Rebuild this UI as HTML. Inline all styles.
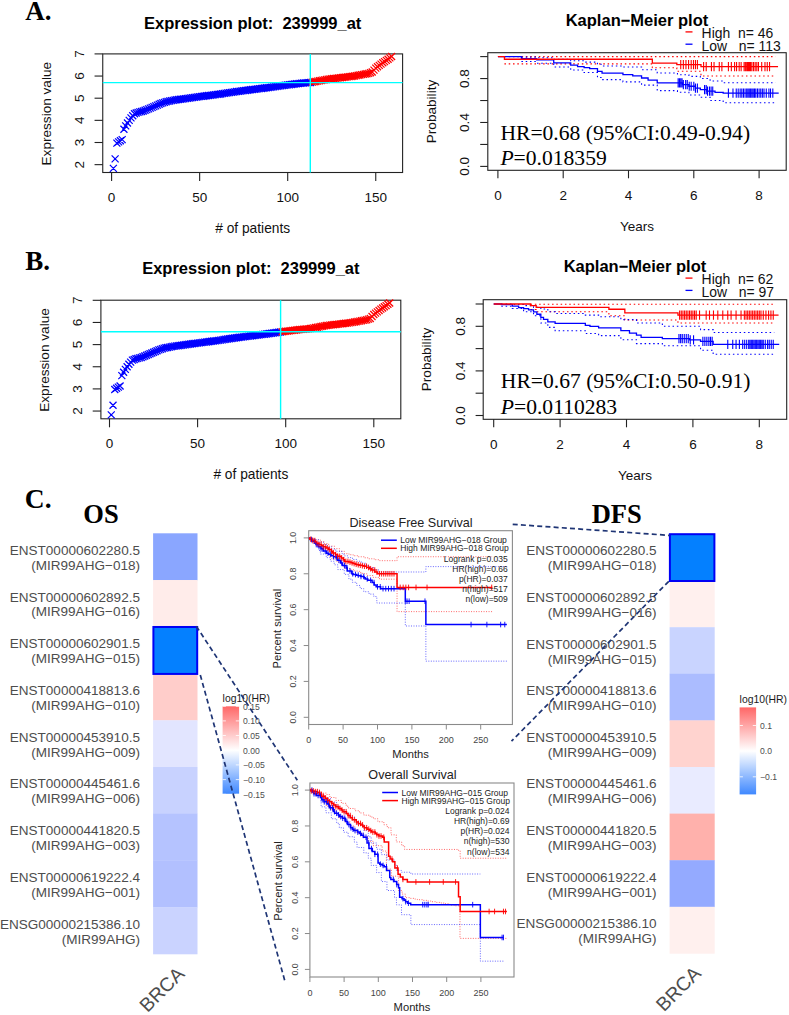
<!DOCTYPE html>
<html><head><meta charset="utf-8"><title>Figure</title>
<style>
html,body{margin:0;padding:0;background:#fff;}
body{width:789px;height:1015px;overflow:hidden;font-family:"Liberation Sans",sans-serif;}
svg{display:block;}
</style></head>
<body>
<svg width="789" height="1015" viewBox="0 0 789 1015">
<rect x="0" y="0" width="789" height="1015" fill="#ffffff"/>
<text x="25.2" y="20.2" font-family="Liberation Serif, serif" font-size="27" text-anchor="start" font-weight="bold" fill="#000">A.</text>
<rect x="102.75" y="53.9" width="299.85" height="118.6" fill="none" stroke="#222" stroke-width="1.1"/>
<path d="M109.86 164.92L116.86 171.92M109.86 171.92L116.86 164.92M111.62 155.39L118.62 162.39M111.62 162.39L118.62 155.39M113.38 139.66L120.38 146.66M113.38 146.66L120.38 139.66M115.14 138.34L122.14 145.34M115.14 145.34L122.14 138.34M116.91 137.23L123.91 144.23M116.91 144.23L123.91 137.23M118.67 136.12L125.67 143.12M118.67 143.12L125.67 136.12M120.43 125.71L127.43 132.71M120.43 132.71L127.43 125.71M122.19 122.39L129.19 129.39M122.19 129.39L129.19 122.39M123.95 119.51L130.95 126.51M123.95 126.51L130.95 119.51M125.71 116.85L132.71 123.85M125.71 123.85L132.71 116.85M127.47 114.41L134.47 121.41M127.47 121.41L134.47 114.41M129.23 112.2L136.23 119.2M129.23 119.2L136.23 112.2M130.99 110.2L137.99 117.2M130.99 117.2L137.99 110.2M132.75 109.54L139.75 116.54M132.75 116.54L139.75 109.54M134.51 108.88L141.51 115.88M134.51 115.88L141.51 108.88M136.28 108.43L143.28 115.43M136.28 115.43L143.28 108.43M138.04 107.99L145.04 114.99M138.04 114.99L145.04 107.99M139.8 107.55L146.8 114.55M139.8 114.55L146.8 107.55M141.56 106.81L148.56 113.81M141.56 113.81L148.56 106.81M143.32 106.07L150.32 113.07M143.32 113.07L150.32 106.07M145.08 105.33L152.08 112.33M145.08 112.33L152.08 105.33M146.84 104.59L153.84 111.59M146.84 111.59L153.84 104.59M148.6 103.86L155.6 110.86M148.6 110.86L155.6 103.86M150.36 103.12L157.36 110.12M150.36 110.12L157.36 103.12M152.12 102.34L159.12 109.34M152.12 109.34L159.12 102.34M153.89 101.57L160.89 108.57M153.89 108.57L160.89 101.57M155.65 100.79L162.65 107.79M155.65 107.79L162.65 100.79M157.41 100.02L164.41 107.02M157.41 107.02L164.41 100.02M159.17 99.43L166.17 106.43M159.17 106.43L166.17 99.43M160.93 98.83L167.93 105.83M160.93 105.83L167.93 98.83M162.69 98.24L169.69 105.24M162.69 105.24L169.69 98.24M164.45 97.89L171.45 104.89M164.45 104.89L171.45 97.89M166.21 97.54L173.21 104.54M166.21 104.54L173.21 97.54M167.97 97.18L174.97 104.18M167.97 104.18L174.97 97.18M169.73 96.83L176.73 103.83M169.73 103.83L176.73 96.83M171.5 96.47L178.5 103.47M171.5 103.47L178.5 96.47M173.26 96.25L180.26 103.25M173.26 103.25L180.26 96.25M175.02 96.03L182.02 103.03M175.02 103.03L182.02 96.03M176.78 95.81L183.78 102.81M176.78 102.81L183.78 95.81M178.54 95.59L185.54 102.59M178.54 102.59L185.54 95.59M180.3 95.36L187.3 102.36M180.3 102.36L187.3 95.36M182.06 95.12L189.06 102.12M182.06 102.12L189.06 95.12M183.82 94.88L190.82 101.88M183.82 101.88L190.82 94.88M185.58 94.63L192.58 101.63M185.58 101.63L192.58 94.63M187.34 94.39L194.34 101.39M187.34 101.39L194.34 94.39M189.11 94.15L196.11 101.15M189.11 101.15L196.11 94.15M190.87 93.9L197.87 100.9M190.87 100.9L197.87 93.9M192.63 93.66L199.63 100.66M192.63 100.66L199.63 93.66M194.39 93.42L201.39 100.42M194.39 100.42L201.39 93.42M196.15 93.17L203.15 100.17M196.15 100.17L203.15 93.17M197.91 92.93L204.91 99.93M197.91 99.93L204.91 92.93M199.67 92.71L206.67 99.71M199.67 99.71L206.67 92.71M201.43 92.49L208.43 99.49M201.43 99.49L208.43 92.49M203.19 92.26L210.19 99.26M203.19 99.26L210.19 92.26M204.95 92.04L211.95 99.04M204.95 99.04L211.95 92.04M206.72 91.82L213.72 98.82M206.72 98.82L213.72 91.82M208.48 91.6L215.48 98.6M208.48 98.6L215.48 91.6M210.24 91.38L217.24 98.38M210.24 98.38L217.24 91.38M212 91.16L219 98.16M212 98.16L219 91.16M213.76 90.93L220.76 97.93M213.76 97.93L220.76 90.93M215.52 90.71L222.52 97.71M215.52 97.71L222.52 90.71M217.28 90.45L224.28 97.45M217.28 97.45L224.28 90.45M219.04 90.18L226.04 97.18M219.04 97.18L226.04 90.18M220.8 89.92L227.8 96.92M220.8 96.92L227.8 89.92M222.56 89.65L229.56 96.65M222.56 96.65L229.56 89.65M224.33 89.38L231.33 96.38M224.33 96.38L231.33 89.38M226.09 89.12L233.09 96.12M226.09 96.12L233.09 89.12M227.85 88.85L234.85 95.85M227.85 95.85L234.85 88.85M229.61 88.59L236.61 95.59M229.61 95.59L236.61 88.59M231.37 88.32L238.37 95.32M231.37 95.32L238.37 88.32M233.13 88.06L240.13 95.06M233.13 95.06L240.13 88.06M234.89 87.83L241.89 94.83M234.89 94.83L241.89 87.83M236.65 87.61L243.65 94.61M236.65 94.61L243.65 87.61M238.41 87.39L245.41 94.39M238.41 94.39L245.41 87.39M240.17 87.17L247.17 94.17M240.17 94.17L247.17 87.17M241.94 86.95L248.94 93.95M241.94 93.95L248.94 86.95M243.7 86.73L250.7 93.73M243.7 93.73L250.7 86.73M245.46 86.5L252.46 93.5M245.46 93.5L252.46 86.5M247.22 86.28L254.22 93.28M247.22 93.28L254.22 86.28M248.98 86.06L255.98 93.06M248.98 93.06L255.98 86.06M250.74 85.84L257.74 92.84M250.74 92.84L257.74 85.84M252.5 85.62L259.5 92.62M252.5 92.62L259.5 85.62M254.26 85.4L261.26 92.4M254.26 92.4L261.26 85.4M256.02 85.18L263.02 92.18M256.02 92.18L263.02 85.18M257.78 84.95L264.78 91.95M257.78 91.95L264.78 84.95M259.55 84.73L266.55 91.73M259.55 91.73L266.55 84.73M261.31 84.51L268.31 91.51M261.31 91.51L268.31 84.51M263.07 84.29L270.07 91.29M263.07 91.29L270.07 84.29M264.83 84.07L271.83 91.07M264.83 91.07L271.83 84.07M266.59 83.85L273.59 90.85M266.59 90.85L273.59 83.85M268.35 83.62L275.35 90.62M268.35 90.62L275.35 83.62M270.11 83.37L277.11 90.37M270.11 90.37L277.11 83.37M271.87 83.11L278.87 90.11M271.87 90.11L278.87 83.11M273.63 82.85L280.63 89.85M273.63 89.85L280.63 82.85M275.39 82.59L282.39 89.59M275.39 89.59L282.39 82.59M277.16 82.33L284.16 89.33M277.16 89.33L284.16 82.33M278.92 82.07L285.92 89.07M278.92 89.07L285.92 82.07M280.68 81.85L287.68 88.85M280.68 88.85L287.68 81.85M282.44 81.63L289.44 88.63M282.44 88.63L289.44 81.63M284.2 81.41L291.2 88.41M284.2 88.41L291.2 81.41M285.96 81.19L292.96 88.19M285.96 88.19L292.96 81.19M287.72 80.97L294.72 87.97M287.72 87.97L294.72 80.97M289.48 80.75L296.48 87.75M289.48 87.75L296.48 80.75M291.24 80.52L298.24 87.52M291.24 87.52L298.24 80.52M293 80.3L300 87.3M293 87.3L300 80.3M294.77 80.08L301.77 87.08M294.77 87.08L301.77 80.08M296.53 79.86L303.53 86.86M296.53 86.86L303.53 79.86M298.29 79.64L305.29 86.64M298.29 86.64L305.29 79.64M300.05 79.51L307.05 86.51M300.05 86.51L307.05 79.51M301.81 79.37L308.81 86.37M301.81 86.37L308.81 79.37M303.57 79.24L310.57 86.24M303.57 86.24L310.57 79.24M305.33 79.11L312.33 86.11M305.33 86.11L312.33 79.11M307.09 78.97L314.09 85.97M307.09 85.97L314.09 78.97" stroke="#0000ff" stroke-width="1.25" fill="none"/>
<path d="M308.85 78.64L315.85 85.64M308.85 85.64L315.85 78.64M310.62 78.31L317.62 85.31M310.62 85.31L317.62 78.31M312.38 77.98L319.38 84.98M312.38 84.98L319.38 77.98M314.14 77.64L321.14 84.64M314.14 84.64L321.14 77.64M315.9 77.31L322.9 84.31M315.9 84.31L322.9 77.31M317.66 76.98L324.66 83.98M317.66 83.98L324.66 76.98M319.42 76.65L326.42 83.65M319.42 83.65L326.42 76.65M321.18 76.32L328.18 83.32M321.18 83.32L328.18 76.32M322.94 75.98L329.94 82.98M322.94 82.98L329.94 75.98M324.7 75.65L331.7 82.65M324.7 82.65L331.7 75.65M326.46 75.45L333.46 82.45M326.46 82.45L333.46 75.45M328.23 75.24L335.23 82.24M328.23 82.24L335.23 75.24M329.99 75.03L336.99 82.03M329.99 82.03L336.99 75.03M331.75 74.83L338.75 81.83M331.75 81.83L338.75 74.83M333.51 74.62L340.51 81.62M333.51 81.62L340.51 74.62M335.27 74.42L342.27 81.42M335.27 81.42L342.27 74.42M337.03 74.21L344.03 81.21M337.03 81.21L344.03 74.21M338.79 74.01L345.79 81.01M338.79 81.01L345.79 74.01M340.55 73.8L347.55 80.8M340.55 80.8L347.55 73.8M342.31 73.59L349.31 80.59M342.31 80.59L349.31 73.59M344.07 73.39L351.07 80.39M344.07 80.39L351.07 73.39M345.83 73.18L352.83 80.18M345.83 80.18L352.83 73.18M347.6 72.98L354.6 79.98M347.6 79.98L354.6 72.98M349.36 72.77L356.36 79.77M349.36 79.77L356.36 72.77M351.12 72.45L358.12 79.45M351.12 79.45L358.12 72.45M352.88 72.13L359.88 79.13M352.88 79.13L359.88 72.13M354.64 71.81L361.64 78.81M354.64 78.81L361.64 71.81M356.4 71.49L363.4 78.49M356.4 78.49L363.4 71.49M358.16 71.17L365.16 78.17M358.16 78.17L365.16 71.17M359.92 70.85L366.92 77.85M359.92 77.85L366.92 70.85M361.68 70.53L368.68 77.53M361.68 77.53L368.68 70.53M363.44 70.21L370.44 77.21M363.44 77.21L370.44 70.21M365.21 69.89L372.21 76.89M365.21 76.89L372.21 69.89M366.97 69.23L373.97 76.23M366.97 76.23L373.97 69.23M368.73 68.56L375.73 75.56M368.73 75.56L375.73 68.56M370.49 66.57L377.49 73.57M370.49 73.57L377.49 66.57M372.25 64.58L379.25 71.58M372.25 71.58L379.25 64.58M374.01 63.25L381.01 70.25M374.01 70.25L381.01 63.25M375.77 61.92L382.77 68.92M375.77 68.92L382.77 61.92M377.53 60.59L384.53 67.59M377.53 67.59L384.53 60.59M379.29 59.26L386.29 66.26M379.29 66.26L386.29 59.26M381.05 58.08L388.05 65.08M381.05 65.08L388.05 58.08M382.82 56.9L389.82 63.9M382.82 63.9L389.82 56.9M384.58 55.72L391.58 62.72M384.58 62.72L391.58 55.72M386.34 54.39L393.34 61.39M386.34 61.39L393.34 54.39M388.1 53.06L395.1 60.06M388.1 60.06L395.1 53.06" stroke="#ff0000" stroke-width="1.25" fill="none"/>
<line x1="102.75" y1="82.6" x2="402.6" y2="82.6" stroke="#00ffff" stroke-width="1.4"/>
<line x1="310.3" y1="53.9" x2="310.3" y2="172.5" stroke="#00ffff" stroke-width="1.4"/>
<line x1="94.55" y1="164.65" x2="102.75" y2="164.65" stroke="#222" stroke-width="1.1"/>
<text x="84.4" y="164.65" font-family="Liberation Sans, sans-serif" font-size="13.5" text-anchor="middle" fill="#111" transform="rotate(-90 84.4 164.65)">2</text>
<line x1="94.55" y1="142.5" x2="102.75" y2="142.5" stroke="#222" stroke-width="1.1"/>
<text x="84.4" y="142.5" font-family="Liberation Sans, sans-serif" font-size="13.5" text-anchor="middle" fill="#111" transform="rotate(-90 84.4 142.5)">3</text>
<line x1="94.55" y1="120.35" x2="102.75" y2="120.35" stroke="#222" stroke-width="1.1"/>
<text x="84.4" y="120.35" font-family="Liberation Sans, sans-serif" font-size="13.5" text-anchor="middle" fill="#111" transform="rotate(-90 84.4 120.35)">4</text>
<line x1="94.55" y1="98.2" x2="102.75" y2="98.2" stroke="#222" stroke-width="1.1"/>
<text x="84.4" y="98.2" font-family="Liberation Sans, sans-serif" font-size="13.5" text-anchor="middle" fill="#111" transform="rotate(-90 84.4 98.2)">5</text>
<line x1="94.55" y1="76.05" x2="102.75" y2="76.05" stroke="#222" stroke-width="1.1"/>
<text x="84.4" y="76.05" font-family="Liberation Sans, sans-serif" font-size="13.5" text-anchor="middle" fill="#111" transform="rotate(-90 84.4 76.05)">6</text>
<line x1="94.55" y1="53.9" x2="102.75" y2="53.9" stroke="#222" stroke-width="1.1"/>
<text x="84.4" y="53.9" font-family="Liberation Sans, sans-serif" font-size="13.5" text-anchor="middle" fill="#111" transform="rotate(-90 84.4 53.9)">7</text>
<line x1="111.6" y1="172.5" x2="111.6" y2="181" stroke="#222" stroke-width="1.1"/>
<text x="111.6" y="201.7" font-family="Liberation Sans, sans-serif" font-size="13.5" text-anchor="middle" fill="#111">0</text>
<line x1="199.65" y1="172.5" x2="199.65" y2="181" stroke="#222" stroke-width="1.1"/>
<text x="199.65" y="201.7" font-family="Liberation Sans, sans-serif" font-size="13.5" text-anchor="middle" fill="#111">50</text>
<line x1="287.7" y1="172.5" x2="287.7" y2="181" stroke="#222" stroke-width="1.1"/>
<text x="287.7" y="201.7" font-family="Liberation Sans, sans-serif" font-size="13.5" text-anchor="middle" fill="#111">100</text>
<line x1="375.75" y1="172.5" x2="375.75" y2="181" stroke="#222" stroke-width="1.1"/>
<text x="375.75" y="201.7" font-family="Liberation Sans, sans-serif" font-size="13.5" text-anchor="middle" fill="#111">150</text>
<text x="252.68" y="28.7" font-family="Liberation Sans, sans-serif" font-size="16.5" text-anchor="middle" font-weight="bold" fill="#000">Expression plot:&#160; 239999_at</text>
<text x="252.68" y="232.9" font-family="Liberation Sans, sans-serif" font-size="13.75" text-anchor="middle" fill="#111"># of patients</text>
<text x="51.4" y="113.7" font-family="Liberation Sans, sans-serif" font-size="13.6" text-anchor="middle" fill="#111" transform="rotate(-90 51.4 113.7)">Expression value</text>
<rect x="487.8" y="52.7" width="298.4" height="117.6" fill="none" stroke="#222" stroke-width="1.1"/>
<path d="M504.43 56.6H775.42" stroke="#ff0000" stroke-width="1.1" fill="none" stroke-dasharray="1.5 2.8"/>
<path d="M504.43 63.85H652.33V67.8H676.82V71.31H700.98V76.03H773.79" stroke="#ff0000" stroke-width="1.1" fill="none" stroke-dasharray="1.5 2.8"/>
<path d="M521.41 57.15H536.75V57.7H553.73V59.35H570.71V60.77H584.1V62.09H597.48V64.29H602.05V65.93H622.95V67.03H641.56V69.78H657.23V73.07H677.47V74.72H688.9V76.36H700.33V78.56H710.12V80.98H723.18V82.73H775.42" stroke="#0000ff" stroke-width="1.1" fill="none" stroke-dasharray="1.5 2.8"/>
<path d="M521.41 61.54H536.75V63.19H553.73V67.03H570.71V70H584.1V72.52H597.48V77.46H602.05V79.66H622.95V81.85H641.56V85.15H657.23V90.64H677.47V92.28H688.9V95.03H700.33V97.23H710.12V100.52H723.18V102.72H776.08" stroke="#0000ff" stroke-width="1.1" fill="none" stroke-dasharray="1.5 2.8"/>
<path d="M497.9 56.6H521.41V58.58H536.75V59.89H553.73V62.86H570.71V65.16H577.57V66.7H584.1V67.58H589.65V68.68H597.48V71.31H602.05V73.18H622.95V74.72H632.74V75.92H641.56V78.01H648.09V80.21H657.23V82.84H682.37V84.6H688.9V86.25H695.43V88.22H700.33V89.54H706.86V91.19H715.02V92.28H723.18V93.16H778.69" stroke="#0000ff" stroke-width="1.3" fill="none"/>
<path d="M497.9 56.6H504.43V59.24H652.33V63.19H676.82V64.62H700.98V66.59H778.04" stroke="#ff0000" stroke-width="1.3" fill="none"/>
<path d="M680.74 60.02V69.22M683.35 60.02V69.22M685.96 60.02V69.22M688.58 60.02V69.22M691.19 60.02V69.22M693.47 60.02V69.22M695.43 60.02V69.22M697.39 60.02V69.22M703.6 61.99V71.19M706.21 61.99V71.19M711.43 61.99V71.19M714.04 61.99V71.19M719.27 61.99V71.19M721.88 61.99V71.19M728.41 61.99V71.19M731.35 61.99V71.19M734.61 61.99V71.19M736.57 61.99V71.19M739.18 61.99V71.19M741.14 61.99V71.19M744.08 61.99V71.19M745.39 61.99V71.19M746.69 61.99V71.19M747.67 61.99V71.19M748.65 61.99V71.19M749.63 61.99V71.19M750.61 61.99V71.19M751.92 61.99V71.19M753.55 61.99V71.19M755.18 61.99V71.19M756.81 61.99V71.19M758.45 61.99V71.19M761.71 61.99V71.19M764.98 61.99V71.19M767.26 61.99V71.19M769.55 61.99V71.19" stroke="#ff0000" stroke-width="1.1" fill="none"/>
<path d="M678.13 78.24V87.44M679.43 78.24V87.44M680.74 78.24V87.44M682.05 78.24V87.44M683.35 80V89.2M685.64 80V89.2M687.27 80V89.2M689.23 81.65V90.85M691.19 81.65V90.85M693.8 81.65V90.85M695.43 83.62V92.82M697.39 83.62V92.82M704.57 84.94V94.14M706.21 84.94V94.14M707.51 86.59V95.79M709.47 86.59V95.79M711.1 86.59V95.79M712.74 86.59V95.79M728.41 88.56V97.76M732.98 88.56V97.76M736.24 88.56V97.76M738.2 88.56V97.76M740.16 88.56V97.76M741.8 88.56V97.76M743.43 88.56V97.76M745.06 88.56V97.76M746.69 88.56V97.76M748 88.56V97.76M749.3 88.56V97.76M750.61 88.56V97.76M751.92 88.56V97.76M753.22 88.56V97.76M754.53 88.56V97.76M755.84 88.56V97.76M757.47 88.56V97.76M759.1 88.56V97.76M760.73 88.56V97.76M762.37 88.56V97.76M764 88.56V97.76M766.28 88.56V97.76M768.89 88.56V97.76M770.53 88.56V97.76M772.81 88.56V97.76" stroke="#0000ff" stroke-width="1.1" fill="none"/>
<line x1="480.2" y1="166.4" x2="487.8" y2="166.4" stroke="#222" stroke-width="1.1"/>
<line x1="480.2" y1="144.44" x2="487.8" y2="144.44" stroke="#222" stroke-width="1.1"/>
<line x1="480.2" y1="122.48" x2="487.8" y2="122.48" stroke="#222" stroke-width="1.1"/>
<line x1="480.2" y1="100.52" x2="487.8" y2="100.52" stroke="#222" stroke-width="1.1"/>
<line x1="480.2" y1="78.56" x2="487.8" y2="78.56" stroke="#222" stroke-width="1.1"/>
<line x1="480.2" y1="56.6" x2="487.8" y2="56.6" stroke="#222" stroke-width="1.1"/>
<text x="469.2" y="166.4" font-family="Liberation Sans, sans-serif" font-size="13.5" text-anchor="middle" fill="#111" transform="rotate(-90 469.2 166.4)">0.0</text>
<text x="469.2" y="122.48" font-family="Liberation Sans, sans-serif" font-size="13.5" text-anchor="middle" fill="#111" transform="rotate(-90 469.2 122.48)">0.4</text>
<text x="469.2" y="78.56" font-family="Liberation Sans, sans-serif" font-size="13.5" text-anchor="middle" fill="#111" transform="rotate(-90 469.2 78.56)">0.8</text>
<line x1="497.9" y1="170.3" x2="497.9" y2="178.3" stroke="#222" stroke-width="1.1"/>
<text x="497.9" y="200.1" font-family="Liberation Sans, sans-serif" font-size="13.5" text-anchor="middle" fill="#111">0</text>
<line x1="563.2" y1="170.3" x2="563.2" y2="178.3" stroke="#222" stroke-width="1.1"/>
<text x="563.2" y="200.1" font-family="Liberation Sans, sans-serif" font-size="13.5" text-anchor="middle" fill="#111">2</text>
<line x1="628.5" y1="170.3" x2="628.5" y2="178.3" stroke="#222" stroke-width="1.1"/>
<text x="628.5" y="200.1" font-family="Liberation Sans, sans-serif" font-size="13.5" text-anchor="middle" fill="#111">4</text>
<line x1="693.8" y1="170.3" x2="693.8" y2="178.3" stroke="#222" stroke-width="1.1"/>
<text x="693.8" y="200.1" font-family="Liberation Sans, sans-serif" font-size="13.5" text-anchor="middle" fill="#111">6</text>
<line x1="759.1" y1="170.3" x2="759.1" y2="178.3" stroke="#222" stroke-width="1.1"/>
<text x="759.1" y="200.1" font-family="Liberation Sans, sans-serif" font-size="13.5" text-anchor="middle" fill="#111">8</text>
<text x="637" y="25.6" font-family="Liberation Sans, sans-serif" font-size="16.5" text-anchor="middle" font-weight="bold" fill="#000">Kaplan&#8722;Meier plot</text>
<text x="637" y="231.3" font-family="Liberation Sans, sans-serif" font-size="13.5" text-anchor="middle" fill="#111">Years</text>
<text x="435.8" y="111.5" font-family="Liberation Sans, sans-serif" font-size="13.6" text-anchor="middle" fill="#111" transform="rotate(-90 435.8 111.5)">Probability</text>
<line x1="685.5" y1="31.9" x2="692.5" y2="31.9" stroke="#ff0000" stroke-width="1.3"/>
<line x1="685.5" y1="44.2" x2="692.5" y2="44.2" stroke="#0000ff" stroke-width="1.3"/>
<text x="701.6" y="38.2" font-family="Liberation Sans, sans-serif" font-size="13.95" text-anchor="start" fill="#111">High&#160; n= 46</text>
<text x="701.6" y="50.6" font-family="Liberation Sans, sans-serif" font-size="13.95" text-anchor="start" fill="#111">Low&#160;&#160; n= 113</text>
<text x="500.4" y="140" font-family="Liberation Serif, serif" font-size="21.6" text-anchor="start" fill="#000">HR=0.68 (95%CI:0.49-0.94)</text>
<text x="500.4" y="165.4" font-family="Liberation Serif, serif" font-size="21.6"><tspan font-style="italic">P</tspan>=0.018359</text>
<text x="25.2" y="270" font-family="Liberation Serif, serif" font-size="27" text-anchor="start" font-weight="bold" fill="#000">B.</text>
<rect x="100.9" y="300.2" width="299.9" height="118.6" fill="none" stroke="#222" stroke-width="1.1"/>
<path d="M107.76 411.32L114.76 418.32M107.76 418.32L114.76 411.32M109.52 401.79L116.52 408.79M109.52 408.79L116.52 401.79M111.29 386.06L118.29 393.06M111.29 393.06L118.29 386.06M113.05 384.74L120.05 391.74M113.05 391.74L120.05 384.74M114.81 383.63L121.81 390.63M114.81 390.63L121.81 383.63M116.57 382.52L123.57 389.52M116.57 389.52L123.57 382.52M118.33 372.11L125.33 379.11M118.33 379.11L125.33 372.11M120.1 368.79L127.1 375.79M120.1 375.79L127.1 368.79M121.86 365.91L128.86 372.91M121.86 372.91L128.86 365.91M123.62 363.25L130.62 370.25M123.62 370.25L130.62 363.25M125.38 360.81L132.38 367.81M125.38 367.81L132.38 360.81M127.14 358.6L134.14 365.6M127.14 365.6L134.14 358.6M128.91 356.61L135.91 363.61M128.91 363.61L135.91 356.61M130.67 355.94L137.67 362.94M130.67 362.94L137.67 355.94M132.43 355.28L139.43 362.28M132.43 362.28L139.43 355.28M134.19 354.83L141.19 361.83M134.19 361.83L141.19 354.83M135.95 354.39L142.95 361.39M135.95 361.39L142.95 354.39M137.72 353.95L144.72 360.95M137.72 360.95L144.72 353.95M139.48 353.21L146.48 360.21M139.48 360.21L146.48 353.21M141.24 352.47L148.24 359.47M141.24 359.47L148.24 352.47M143 351.73L150 358.73M143 358.73L150 351.73M144.76 350.99L151.76 357.99M144.76 357.99L151.76 350.99M146.53 350.26L153.53 357.26M146.53 357.26L153.53 350.26M148.29 349.52L155.29 356.52M148.29 356.52L155.29 349.52M150.05 348.74L157.05 355.74M150.05 355.74L157.05 348.74M151.81 347.97L158.81 354.97M151.81 354.97L158.81 347.97M153.57 347.19L160.57 354.19M153.57 354.19L160.57 347.19M155.34 346.42L162.34 353.42M155.34 353.42L162.34 346.42M157.1 345.83L164.1 352.83M157.1 352.83L164.1 345.83M158.86 345.23L165.86 352.23M158.86 352.23L165.86 345.23M160.62 344.64L167.62 351.64M160.62 351.64L167.62 344.64M162.38 344.29L169.38 351.29M162.38 351.29L169.38 344.29M164.15 343.94L171.15 350.94M164.15 350.94L171.15 343.94M165.91 343.58L172.91 350.58M165.91 350.58L172.91 343.58M167.67 343.23L174.67 350.23M167.67 350.23L174.67 343.23M169.43 342.87L176.43 349.87M169.43 349.87L176.43 342.87M171.19 342.65L178.19 349.65M171.19 349.65L178.19 342.65M172.96 342.43L179.96 349.43M172.96 349.43L179.96 342.43M174.72 342.21L181.72 349.21M174.72 349.21L181.72 342.21M176.48 341.99L183.48 348.99M176.48 348.99L183.48 341.99M178.24 341.76L185.24 348.76M178.24 348.76L185.24 341.76M180 341.52L187 348.52M180 348.52L187 341.52M181.77 341.28L188.77 348.28M181.77 348.28L188.77 341.28M183.53 341.03L190.53 348.03M183.53 348.03L190.53 341.03M185.29 340.79L192.29 347.79M185.29 347.79L192.29 340.79M187.05 340.55L194.05 347.55M187.05 347.55L194.05 340.55M188.81 340.3L195.81 347.3M188.81 347.3L195.81 340.3M190.58 340.06L197.58 347.06M190.58 347.06L197.58 340.06M192.34 339.82L199.34 346.82M192.34 346.82L199.34 339.82M194.1 339.57L201.1 346.57M194.1 346.57L201.1 339.57M195.86 339.33L202.86 346.33M195.86 346.33L202.86 339.33M197.62 339.11L204.62 346.11M197.62 346.11L204.62 339.11M199.39 338.88L206.39 345.88M199.39 345.88L206.39 338.88M201.15 338.66L208.15 345.66M201.15 345.66L208.15 338.66M202.91 338.44L209.91 345.44M202.91 345.44L209.91 338.44M204.67 338.22L211.67 345.22M204.67 345.22L211.67 338.22M206.43 338L213.43 345M206.43 345L213.43 338M208.2 337.78L215.2 344.78M208.2 344.78L215.2 337.78M209.96 337.56L216.96 344.56M209.96 344.56L216.96 337.56M211.72 337.33L218.72 344.33M211.72 344.33L218.72 337.33M213.48 337.11L220.48 344.11M213.48 344.11L220.48 337.11M215.24 336.85L222.24 343.85M215.24 343.85L222.24 336.85M217.01 336.58L224.01 343.58M217.01 343.58L224.01 336.58M218.77 336.32L225.77 343.32M218.77 343.32L225.77 336.32M220.53 336.05L227.53 343.05M220.53 343.05L227.53 336.05M222.29 335.78L229.29 342.78M222.29 342.78L229.29 335.78M224.05 335.52L231.05 342.52M224.05 342.52L231.05 335.52M225.82 335.25L232.82 342.25M225.82 342.25L232.82 335.25M227.58 334.99L234.58 341.99M227.58 341.99L234.58 334.99M229.34 334.72L236.34 341.72M229.34 341.72L236.34 334.72M231.1 334.46L238.1 341.46M231.1 341.46L238.1 334.46M232.86 334.23L239.86 341.23M232.86 341.23L239.86 334.23M234.63 334.01L241.63 341.01M234.63 341.01L241.63 334.01M236.39 333.79L243.39 340.79M236.39 340.79L243.39 333.79M238.15 333.57L245.15 340.57M238.15 340.57L245.15 333.57M239.91 333.35L246.91 340.35M239.91 340.35L246.91 333.35M241.67 333.13L248.67 340.13M241.67 340.13L248.67 333.13M243.44 332.9L250.44 339.9M243.44 339.9L250.44 332.9M245.2 332.68L252.2 339.68M245.2 339.68L252.2 332.68M246.96 332.46L253.96 339.46M246.96 339.46L253.96 332.46M248.72 332.24L255.72 339.24M248.72 339.24L255.72 332.24M250.48 332.02L257.48 339.02M250.48 339.02L257.48 332.02M252.25 331.8L259.25 338.8M252.25 338.8L259.25 331.8M254.01 331.58L261.01 338.58M254.01 338.58L261.01 331.58M255.77 331.35L262.77 338.35M255.77 338.35L262.77 331.35M257.53 331.13L264.53 338.13M257.53 338.13L264.53 331.13M259.29 330.91L266.29 337.91M259.29 337.91L266.29 330.91M261.06 330.69L268.06 337.69M261.06 337.69L268.06 330.69M262.82 330.47L269.82 337.47M262.82 337.47L269.82 330.47M264.58 330.25L271.58 337.25M264.58 337.25L271.58 330.25M266.34 330.02L273.34 337.02M266.34 337.02L273.34 330.02M268.1 329.77L275.1 336.77M268.1 336.77L275.1 329.77M269.87 329.51L276.87 336.51M269.87 336.51L276.87 329.51M271.63 329.25L278.63 336.25M271.63 336.25L278.63 329.25M273.39 328.99L280.39 335.99M273.39 335.99L280.39 328.99M275.15 328.73L282.15 335.73M275.15 335.73L282.15 328.73M276.91 328.47L283.91 335.47M276.91 335.47L283.91 328.47" stroke="#0000ff" stroke-width="1.25" fill="none"/>
<path d="M278.68 328.25L285.68 335.25M278.68 335.25L285.68 328.25M280.44 328.03L287.44 335.03M280.44 335.03L287.44 328.03M282.2 327.81L289.2 334.81M282.2 334.81L289.2 327.81M283.96 327.59L290.96 334.59M283.96 334.59L290.96 327.59M285.72 327.37L292.72 334.37M285.72 334.37L292.72 327.37M287.49 327.15L294.49 334.15M287.49 334.15L294.49 327.15M289.25 326.92L296.25 333.92M289.25 333.92L296.25 326.92M291.01 326.7L298.01 333.7M291.01 333.7L298.01 326.7M292.77 326.48L299.77 333.48M292.77 333.48L299.77 326.48M294.53 326.26L301.53 333.26M294.53 333.26L301.53 326.26M296.3 326.04L303.3 333.04M296.3 333.04L303.3 326.04M298.06 325.91L305.06 332.91M298.06 332.91L305.06 325.91M299.82 325.77L306.82 332.77M299.82 332.77L306.82 325.77M301.58 325.64L308.58 332.64M301.58 332.64L308.58 325.64M303.34 325.51L310.34 332.51M303.34 332.51L310.34 325.51M305.11 325.37L312.11 332.37M305.11 332.37L312.11 325.37M306.87 325.04L313.87 332.04M306.87 332.04L313.87 325.04M308.63 324.71L315.63 331.71M308.63 331.71L315.63 324.71M310.39 324.38L317.39 331.38M310.39 331.38L317.39 324.38M312.15 324.04L319.15 331.04M312.15 331.04L319.15 324.04M313.92 323.71L320.92 330.71M313.92 330.71L320.92 323.71M315.68 323.38L322.68 330.38M315.68 330.38L322.68 323.38M317.44 323.05L324.44 330.05M317.44 330.05L324.44 323.05M319.2 322.72L326.2 329.72M319.2 329.72L326.2 322.72M320.96 322.38L327.96 329.38M320.96 329.38L327.96 322.38M322.73 322.05L329.73 329.05M322.73 329.05L329.73 322.05M324.49 321.85L331.49 328.85M324.49 328.85L331.49 321.85M326.25 321.64L333.25 328.64M326.25 328.64L333.25 321.64M328.01 321.43L335.01 328.43M328.01 328.43L335.01 321.43M329.77 321.23L336.77 328.23M329.77 328.23L336.77 321.23M331.54 321.02L338.54 328.02M331.54 328.02L338.54 321.02M333.3 320.82L340.3 327.82M333.3 327.82L340.3 320.82M335.06 320.61L342.06 327.61M335.06 327.61L342.06 320.61M336.82 320.41L343.82 327.41M336.82 327.41L343.82 320.41M338.58 320.2L345.58 327.2M338.58 327.2L345.58 320.2M340.35 319.99L347.35 326.99M340.35 326.99L347.35 319.99M342.11 319.79L349.11 326.79M342.11 326.79L349.11 319.79M343.87 319.58L350.87 326.58M343.87 326.58L350.87 319.58M345.63 319.38L352.63 326.38M345.63 326.38L352.63 319.38M347.39 319.17L354.39 326.17M347.39 326.17L354.39 319.17M349.16 318.85L356.16 325.85M349.16 325.85L356.16 318.85M350.92 318.53L357.92 325.53M350.92 325.53L357.92 318.53M352.68 318.21L359.68 325.21M352.68 325.21L359.68 318.21M354.44 317.89L361.44 324.89M354.44 324.89L361.44 317.89M356.2 317.57L363.2 324.57M356.2 324.57L363.2 317.57M357.97 317.25L364.97 324.25M357.97 324.25L364.97 317.25M359.73 316.93L366.73 323.93M359.73 323.93L366.73 316.93M361.49 316.61L368.49 323.61M361.49 323.61L368.49 316.61M363.25 316.29L370.25 323.29M363.25 323.29L370.25 316.29M365.01 315.63L372.01 322.63M365.01 322.63L372.01 315.63M366.78 314.96L373.78 321.96M366.78 321.96L373.78 314.96M368.54 312.97L375.54 319.97M368.54 319.97L375.54 312.97M370.3 310.98L377.3 317.98M370.3 317.98L377.3 310.98M372.06 309.65L379.06 316.65M372.06 316.65L379.06 309.65M373.82 308.32L380.82 315.32M373.82 315.32L380.82 308.32M375.59 306.99L382.59 313.99M375.59 313.99L382.59 306.99M377.35 305.66L384.35 312.66M377.35 312.66L384.35 305.66M379.11 304.48L386.11 311.48M379.11 311.48L386.11 304.48M380.87 303.3L387.87 310.3M380.87 310.3L387.87 303.3M382.63 302.12L389.63 309.12M382.63 309.12L389.63 302.12M384.4 300.79L391.4 307.79M384.4 307.79L391.4 300.79M386.16 299.46L393.16 306.46M386.16 306.46L393.16 299.46" stroke="#ff0000" stroke-width="1.25" fill="none"/>
<line x1="100.9" y1="331.8" x2="400.8" y2="331.8" stroke="#00ffff" stroke-width="1.4"/>
<line x1="280.6" y1="300.2" x2="280.6" y2="418.8" stroke="#00ffff" stroke-width="1.4"/>
<line x1="92.7" y1="411.05" x2="100.9" y2="411.05" stroke="#222" stroke-width="1.1"/>
<text x="82.3" y="411.05" font-family="Liberation Sans, sans-serif" font-size="13.5" text-anchor="middle" fill="#111" transform="rotate(-90 82.3 411.05)">2</text>
<line x1="92.7" y1="388.9" x2="100.9" y2="388.9" stroke="#222" stroke-width="1.1"/>
<text x="82.3" y="388.9" font-family="Liberation Sans, sans-serif" font-size="13.5" text-anchor="middle" fill="#111" transform="rotate(-90 82.3 388.9)">3</text>
<line x1="92.7" y1="366.75" x2="100.9" y2="366.75" stroke="#222" stroke-width="1.1"/>
<text x="82.3" y="366.75" font-family="Liberation Sans, sans-serif" font-size="13.5" text-anchor="middle" fill="#111" transform="rotate(-90 82.3 366.75)">4</text>
<line x1="92.7" y1="344.6" x2="100.9" y2="344.6" stroke="#222" stroke-width="1.1"/>
<text x="82.3" y="344.6" font-family="Liberation Sans, sans-serif" font-size="13.5" text-anchor="middle" fill="#111" transform="rotate(-90 82.3 344.6)">5</text>
<line x1="92.7" y1="322.45" x2="100.9" y2="322.45" stroke="#222" stroke-width="1.1"/>
<text x="82.3" y="322.45" font-family="Liberation Sans, sans-serif" font-size="13.5" text-anchor="middle" fill="#111" transform="rotate(-90 82.3 322.45)">6</text>
<line x1="92.7" y1="300.3" x2="100.9" y2="300.3" stroke="#222" stroke-width="1.1"/>
<text x="82.3" y="300.3" font-family="Liberation Sans, sans-serif" font-size="13.5" text-anchor="middle" fill="#111" transform="rotate(-90 82.3 300.3)">7</text>
<line x1="109.5" y1="418.8" x2="109.5" y2="427.3" stroke="#222" stroke-width="1.1"/>
<text x="109.5" y="448" font-family="Liberation Sans, sans-serif" font-size="13.5" text-anchor="middle" fill="#111">0</text>
<line x1="197.6" y1="418.8" x2="197.6" y2="427.3" stroke="#222" stroke-width="1.1"/>
<text x="197.6" y="448" font-family="Liberation Sans, sans-serif" font-size="13.5" text-anchor="middle" fill="#111">50</text>
<line x1="285.7" y1="418.8" x2="285.7" y2="427.3" stroke="#222" stroke-width="1.1"/>
<text x="285.7" y="448" font-family="Liberation Sans, sans-serif" font-size="13.5" text-anchor="middle" fill="#111">100</text>
<line x1="373.8" y1="418.8" x2="373.8" y2="427.3" stroke="#222" stroke-width="1.1"/>
<text x="373.8" y="448" font-family="Liberation Sans, sans-serif" font-size="13.5" text-anchor="middle" fill="#111">150</text>
<text x="250.85" y="274.2" font-family="Liberation Sans, sans-serif" font-size="16.5" text-anchor="middle" font-weight="bold" fill="#000">Expression plot:&#160; 239999_at</text>
<text x="250.85" y="479.2" font-family="Liberation Sans, sans-serif" font-size="13.75" text-anchor="middle" fill="#111"># of patients</text>
<text x="49.3" y="360" font-family="Liberation Sans, sans-serif" font-size="13.6" text-anchor="middle" fill="#111" transform="rotate(-90 49.3 360)">Expression value</text>
<rect x="483.2" y="299.7" width="303.5" height="119.6" fill="none" stroke="#222" stroke-width="1.1"/>
<path d="M530.55 304.22H774.24" stroke="#ff0000" stroke-width="1.1" fill="none" stroke-dasharray="1.5 2.8"/>
<path d="M530.55 309.57H536.2V311.81H608.9V315.82H624.84V319.94H677.96V322.95H774.24" stroke="#ff0000" stroke-width="1.1" fill="none" stroke-dasharray="1.5 2.8"/>
<path d="M501.34 304H512.29V304.56H523.58V305.67H533.54V307.35H540.84V309.02H547.82V311.81H555.12V313.48H585.33V315.15H598.61V316.82H620.86V319.61H636.46V322.95H662.36V326.3H700.54V329.64H713.15V332.43H774.24" stroke="#0000ff" stroke-width="1.1" fill="none" stroke-dasharray="1.5 2.8"/>
<path d="M501.34 306.23H512.29V308.46H523.58V311.81H533.54V315.71H540.84V322.95H547.82V327.41H555.12V330.76H585.33V333.55H598.61V335.67H620.86V339.68H636.46V343.58H662.36V345.81H700.54V350.27H713.15V354.18H774.24" stroke="#0000ff" stroke-width="1.1" fill="none" stroke-dasharray="1.5 2.8"/>
<path d="M493.7 304H501.34V304.67H512.29V306.12H518.6V307.57H523.58V308.68H528.56V309.8H533.54V311.81H536.86V314.26H540.84V317.38H543.5V319.39H547.82V321.95H555.12V323.4H585.33V325.41H589.98V326.3H598.61V327.97H620.86V330.54H629.49V333.1H636.46V335.22H641.11V337.45H662.36V338.68H689.58V339.9H700.54V341.35H713.15V344.36H779.22" stroke="#0000ff" stroke-width="1.3" fill="none"/>
<path d="M493.7 304H530.55V305.67H536.2V307.46H608.9V309.24H624.84V312.92H677.96V315.15H778.56" stroke="#ff0000" stroke-width="1.3" fill="none"/>
<path d="M679.62 310.55V319.75M681.28 310.55V319.75M682.94 310.55V319.75M684.6 310.55V319.75M686.26 310.55V319.75M687.92 310.55V319.75M689.58 310.55V319.75M691.24 310.55V319.75M692.9 310.55V319.75M694.56 310.55V319.75M696.22 310.55V319.75M699.54 310.55V319.75M706.18 310.55V319.75M709.5 310.55V319.75M713.48 310.55V319.75M717.8 310.55V319.75M722.78 310.55V319.75M727.76 310.55V319.75M731.08 310.55V319.75M736.06 310.55V319.75M741.04 310.55V319.75M744.36 310.55V319.75M746.02 310.55V319.75M747.68 310.55V319.75M749.34 310.55V319.75M751 310.55V319.75M752.66 310.55V319.75M754.32 310.55V319.75M755.98 310.55V319.75M757.64 310.55V319.75M759.3 310.55V319.75M760.96 310.55V319.75M763.28 310.55V319.75M765.94 310.55V319.75M768.6 310.55V319.75M770.92 310.55V319.75M773.24 310.55V319.75" stroke="#ff0000" stroke-width="1.1" fill="none"/>
<path d="M678.96 334.08V343.28M680.62 334.08V343.28M682.28 334.08V343.28M684.27 334.08V343.28M686.26 334.08V343.28M688.25 334.08V343.28M690.24 335.3V344.5M693.56 335.3V344.5M702.86 336.75V345.95M704.85 336.75V345.95M706.84 336.75V345.95M708.84 336.75V345.95M710.5 336.75V345.95M712.16 336.75V345.95M727.76 339.76V348.96M732.74 339.76V348.96M736.06 339.76V348.96M739.38 339.76V348.96M742.7 339.76V348.96M744.69 339.76V348.96M746.68 339.76V348.96M748.68 339.76V348.96M750 339.76V348.96M751.33 339.76V348.96M752.66 339.76V348.96M753.99 339.76V348.96M755.32 339.76V348.96M756.64 339.76V348.96M757.97 339.76V348.96M759.3 339.76V348.96M760.63 339.76V348.96M761.96 339.76V348.96M763.28 339.76V348.96M765.28 339.76V348.96M767.6 339.76V348.96M769.26 339.76V348.96M771.25 339.76V348.96M773.24 339.76V348.96" stroke="#0000ff" stroke-width="1.1" fill="none"/>
<line x1="475.6" y1="415.5" x2="483.2" y2="415.5" stroke="#222" stroke-width="1.1"/>
<line x1="475.6" y1="393.2" x2="483.2" y2="393.2" stroke="#222" stroke-width="1.1"/>
<line x1="475.6" y1="370.9" x2="483.2" y2="370.9" stroke="#222" stroke-width="1.1"/>
<line x1="475.6" y1="348.6" x2="483.2" y2="348.6" stroke="#222" stroke-width="1.1"/>
<line x1="475.6" y1="326.3" x2="483.2" y2="326.3" stroke="#222" stroke-width="1.1"/>
<line x1="475.6" y1="304" x2="483.2" y2="304" stroke="#222" stroke-width="1.1"/>
<text x="464.6" y="415.5" font-family="Liberation Sans, sans-serif" font-size="13.5" text-anchor="middle" fill="#111" transform="rotate(-90 464.6 415.5)">0.0</text>
<text x="464.6" y="370.9" font-family="Liberation Sans, sans-serif" font-size="13.5" text-anchor="middle" fill="#111" transform="rotate(-90 464.6 370.9)">0.4</text>
<text x="464.6" y="326.3" font-family="Liberation Sans, sans-serif" font-size="13.5" text-anchor="middle" fill="#111" transform="rotate(-90 464.6 326.3)">0.8</text>
<line x1="493.7" y1="419.3" x2="493.7" y2="427.3" stroke="#222" stroke-width="1.1"/>
<text x="493.7" y="449.1" font-family="Liberation Sans, sans-serif" font-size="13.5" text-anchor="middle" fill="#111">0</text>
<line x1="560.1" y1="419.3" x2="560.1" y2="427.3" stroke="#222" stroke-width="1.1"/>
<text x="560.1" y="449.1" font-family="Liberation Sans, sans-serif" font-size="13.5" text-anchor="middle" fill="#111">2</text>
<line x1="626.5" y1="419.3" x2="626.5" y2="427.3" stroke="#222" stroke-width="1.1"/>
<text x="626.5" y="449.1" font-family="Liberation Sans, sans-serif" font-size="13.5" text-anchor="middle" fill="#111">4</text>
<line x1="692.9" y1="419.3" x2="692.9" y2="427.3" stroke="#222" stroke-width="1.1"/>
<text x="692.9" y="449.1" font-family="Liberation Sans, sans-serif" font-size="13.5" text-anchor="middle" fill="#111">6</text>
<line x1="759.3" y1="419.3" x2="759.3" y2="427.3" stroke="#222" stroke-width="1.1"/>
<text x="759.3" y="449.1" font-family="Liberation Sans, sans-serif" font-size="13.5" text-anchor="middle" fill="#111">8</text>
<text x="634.95" y="272.3" font-family="Liberation Sans, sans-serif" font-size="16.5" text-anchor="middle" font-weight="bold" fill="#000">Kaplan&#8722;Meier plot</text>
<text x="634.95" y="480.3" font-family="Liberation Sans, sans-serif" font-size="13.5" text-anchor="middle" fill="#111">Years</text>
<text x="431.2" y="359.5" font-family="Liberation Sans, sans-serif" font-size="13.6" text-anchor="middle" fill="#111" transform="rotate(-90 431.2 359.5)">Probability</text>
<line x1="685.5" y1="278.1" x2="692.5" y2="278.1" stroke="#ff0000" stroke-width="1.3"/>
<line x1="685.5" y1="290.4" x2="692.5" y2="290.4" stroke="#0000ff" stroke-width="1.3"/>
<text x="701.6" y="284.4" font-family="Liberation Sans, sans-serif" font-size="13.95" text-anchor="start" fill="#111">High&#160; n= 62</text>
<text x="701.6" y="296.8" font-family="Liberation Sans, sans-serif" font-size="13.95" text-anchor="start" fill="#111">Low&#160;&#160; n= 97</text>
<text x="500.8" y="387.5" font-family="Liberation Serif, serif" font-size="21.6" text-anchor="start" fill="#000">HR=0.67 (95%CI:0.50-0.91)</text>
<text x="500.8" y="413.8" font-family="Liberation Serif, serif" font-size="21.6"><tspan font-style="italic">P</tspan>=0.0110283</text>
<text x="24.8" y="507.9" font-family="Liberation Serif, serif" font-size="27.5" text-anchor="start" font-weight="bold" fill="#000">C.</text>
<text x="101" y="522.7" font-family="Liberation Serif, serif" font-size="26.5" text-anchor="middle" font-weight="bold" fill="#000">OS</text>
<text x="616.7" y="523.1" font-family="Liberation Serif, serif" font-size="26.5" text-anchor="middle" font-weight="bold" fill="#000">DFS</text>
<rect x="153.1" y="533.3" width="44.4" height="47.04" fill="#8aa6ff"/>
<rect x="153.1" y="580.04" width="44.4" height="47.04" fill="#ffecea"/>
<rect x="153.1" y="626.79" width="44.4" height="47.04" fill="#0480ff"/>
<rect x="153.1" y="673.53" width="44.4" height="47.04" fill="#ffcdca"/>
<rect x="153.1" y="720.28" width="44.4" height="47.04" fill="#e2e5ff"/>
<rect x="153.1" y="767.02" width="44.4" height="47.04" fill="#c8d2ff"/>
<rect x="153.1" y="813.77" width="44.4" height="47.04" fill="#b5c3ff"/>
<rect x="153.1" y="860.51" width="44.4" height="47.04" fill="#b2c0ff"/>
<rect x="153.1" y="907.26" width="44.4" height="47.04" fill="#cad3ff"/>
<text x="140" y="554.77" font-family="Liberation Sans, sans-serif" font-size="13.55" text-anchor="end" fill="#4d4d4d">ENST00000602280.5</text>
<text x="140" y="569.67" font-family="Liberation Sans, sans-serif" font-size="13.55" text-anchor="end" fill="#4d4d4d">(MIR99AHG&#8722;018)</text>
<text x="140" y="601.52" font-family="Liberation Sans, sans-serif" font-size="13.55" text-anchor="end" fill="#4d4d4d">ENST00000602892.5</text>
<text x="140" y="616.42" font-family="Liberation Sans, sans-serif" font-size="13.55" text-anchor="end" fill="#4d4d4d">(MIR99AHG&#8722;016)</text>
<text x="140" y="648.26" font-family="Liberation Sans, sans-serif" font-size="13.55" text-anchor="end" fill="#4d4d4d">ENST00000602901.5</text>
<text x="140" y="663.16" font-family="Liberation Sans, sans-serif" font-size="13.55" text-anchor="end" fill="#4d4d4d">(MIR99AHG&#8722;015)</text>
<text x="140" y="695.01" font-family="Liberation Sans, sans-serif" font-size="13.55" text-anchor="end" fill="#4d4d4d">ENST00000418813.6</text>
<text x="140" y="709.91" font-family="Liberation Sans, sans-serif" font-size="13.55" text-anchor="end" fill="#4d4d4d">(MIR99AHG&#8722;010)</text>
<text x="140" y="741.75" font-family="Liberation Sans, sans-serif" font-size="13.55" text-anchor="end" fill="#4d4d4d">ENST00000453910.5</text>
<text x="140" y="756.65" font-family="Liberation Sans, sans-serif" font-size="13.55" text-anchor="end" fill="#4d4d4d">(MIR99AHG&#8722;009)</text>
<text x="140" y="788.49" font-family="Liberation Sans, sans-serif" font-size="13.55" text-anchor="end" fill="#4d4d4d">ENST00000445461.6</text>
<text x="140" y="803.39" font-family="Liberation Sans, sans-serif" font-size="13.55" text-anchor="end" fill="#4d4d4d">(MIR99AHG&#8722;006)</text>
<text x="140" y="835.24" font-family="Liberation Sans, sans-serif" font-size="13.55" text-anchor="end" fill="#4d4d4d">ENST00000441820.5</text>
<text x="140" y="850.14" font-family="Liberation Sans, sans-serif" font-size="13.55" text-anchor="end" fill="#4d4d4d">(MIR99AHG&#8722;003)</text>
<text x="140" y="881.98" font-family="Liberation Sans, sans-serif" font-size="13.55" text-anchor="end" fill="#4d4d4d">ENST00000619222.4</text>
<text x="140" y="896.88" font-family="Liberation Sans, sans-serif" font-size="13.55" text-anchor="end" fill="#4d4d4d">(MIR99AHG&#8722;001)</text>
<text x="140" y="928.73" font-family="Liberation Sans, sans-serif" font-size="13.55" text-anchor="end" fill="#4d4d4d">ENSG00000215386.10</text>
<text x="140" y="943.63" font-family="Liberation Sans, sans-serif" font-size="13.55" text-anchor="end" fill="#4d4d4d">(MIR99AHG)</text>
<rect x="153.4" y="626.99" width="43.8" height="46.94" fill="none" stroke="#0000f5" stroke-width="2"/>
<text x="147.5" y="1013.2" font-family="Liberation Sans, sans-serif" font-size="19.4" text-anchor="start" fill="#4d4d4d" transform="rotate(-45 147.5 1013.2)">BRCA</text>
<rect x="669.6" y="534" width="45.1" height="46.9" fill="#0480ff"/>
<rect x="669.6" y="580.6" width="45.1" height="46.9" fill="#fff0ee"/>
<rect x="669.6" y="627.2" width="45.1" height="46.9" fill="#c9d4ff"/>
<rect x="669.6" y="673.8" width="45.1" height="46.9" fill="#abbcff"/>
<rect x="669.6" y="720.4" width="45.1" height="46.9" fill="#ffd3cf"/>
<rect x="669.6" y="767" width="45.1" height="46.9" fill="#e9ebff"/>
<rect x="669.6" y="813.6" width="45.1" height="46.9" fill="#ffb1ac"/>
<rect x="669.6" y="860.2" width="45.1" height="46.9" fill="#94aaff"/>
<rect x="669.6" y="906.8" width="45.1" height="46.9" fill="#fff0ee"/>
<text x="656.6" y="555.4" font-family="Liberation Sans, sans-serif" font-size="13.55" text-anchor="end" fill="#4d4d4d">ENST00000602280.5</text>
<text x="656.6" y="570.3" font-family="Liberation Sans, sans-serif" font-size="13.55" text-anchor="end" fill="#4d4d4d">(MIR99AHG&#8722;018)</text>
<text x="656.6" y="602" font-family="Liberation Sans, sans-serif" font-size="13.55" text-anchor="end" fill="#4d4d4d">ENST00000602892.5</text>
<text x="656.6" y="616.9" font-family="Liberation Sans, sans-serif" font-size="13.55" text-anchor="end" fill="#4d4d4d">(MIR99AHG&#8722;016)</text>
<text x="656.6" y="648.6" font-family="Liberation Sans, sans-serif" font-size="13.55" text-anchor="end" fill="#4d4d4d">ENST00000602901.5</text>
<text x="656.6" y="663.5" font-family="Liberation Sans, sans-serif" font-size="13.55" text-anchor="end" fill="#4d4d4d">(MIR99AHG&#8722;015)</text>
<text x="656.6" y="695.2" font-family="Liberation Sans, sans-serif" font-size="13.55" text-anchor="end" fill="#4d4d4d">ENST00000418813.6</text>
<text x="656.6" y="710.1" font-family="Liberation Sans, sans-serif" font-size="13.55" text-anchor="end" fill="#4d4d4d">(MIR99AHG&#8722;010)</text>
<text x="656.6" y="741.8" font-family="Liberation Sans, sans-serif" font-size="13.55" text-anchor="end" fill="#4d4d4d">ENST00000453910.5</text>
<text x="656.6" y="756.7" font-family="Liberation Sans, sans-serif" font-size="13.55" text-anchor="end" fill="#4d4d4d">(MIR99AHG&#8722;009)</text>
<text x="656.6" y="788.4" font-family="Liberation Sans, sans-serif" font-size="13.55" text-anchor="end" fill="#4d4d4d">ENST00000445461.6</text>
<text x="656.6" y="803.3" font-family="Liberation Sans, sans-serif" font-size="13.55" text-anchor="end" fill="#4d4d4d">(MIR99AHG&#8722;006)</text>
<text x="656.6" y="835" font-family="Liberation Sans, sans-serif" font-size="13.55" text-anchor="end" fill="#4d4d4d">ENST00000441820.5</text>
<text x="656.6" y="849.9" font-family="Liberation Sans, sans-serif" font-size="13.55" text-anchor="end" fill="#4d4d4d">(MIR99AHG&#8722;003)</text>
<text x="656.6" y="881.6" font-family="Liberation Sans, sans-serif" font-size="13.55" text-anchor="end" fill="#4d4d4d">ENST00000619222.4</text>
<text x="656.6" y="896.5" font-family="Liberation Sans, sans-serif" font-size="13.55" text-anchor="end" fill="#4d4d4d">(MIR99AHG&#8722;001)</text>
<text x="656.6" y="928.2" font-family="Liberation Sans, sans-serif" font-size="13.55" text-anchor="end" fill="#4d4d4d">ENSG00000215386.10</text>
<text x="656.6" y="943.1" font-family="Liberation Sans, sans-serif" font-size="13.55" text-anchor="end" fill="#4d4d4d">(MIR99AHG)</text>
<rect x="669.9" y="534.2" width="44.5" height="46.8" fill="none" stroke="#0000f5" stroke-width="2"/>
<text x="664" y="1012.6" font-family="Liberation Sans, sans-serif" font-size="19.4" text-anchor="start" fill="#4d4d4d" transform="rotate(-45 664 1012.6)">BRCA</text>
<defs><linearGradient id="g1" x1="0" y1="0" x2="0" y2="1"><stop offset="0" stop-color="#ff6767"/><stop offset="0.5017142857142868" stop-color="#ffffff"/><stop offset="1" stop-color="#3f88ff"/></linearGradient></defs>
<rect x="222.6" y="706.3" width="16.5" height="87.5" fill="url(#g1)"/>
<text x="222.6" y="701.8" font-family="Liberation Sans, sans-serif" font-size="10.4" text-anchor="start" fill="#1a1a1a">log10(HR)</text>
<line x1="222.6" y1="706.3" x2="225.9" y2="706.3" stroke="#ffffff" stroke-width="0.8"/>
<line x1="235.8" y1="706.3" x2="239.1" y2="706.3" stroke="#ffffff" stroke-width="0.8"/>
<text x="243.1" y="709.6" font-family="Liberation Sans, sans-serif" font-size="8.6" text-anchor="start" fill="#4d4d4d">0.15</text>
<line x1="222.6" y1="720.9" x2="225.9" y2="720.9" stroke="#ffffff" stroke-width="0.8"/>
<line x1="235.8" y1="720.9" x2="239.1" y2="720.9" stroke="#ffffff" stroke-width="0.8"/>
<text x="243.1" y="724.2" font-family="Liberation Sans, sans-serif" font-size="8.6" text-anchor="start" fill="#4d4d4d">0.10</text>
<line x1="222.6" y1="735.5" x2="225.9" y2="735.5" stroke="#ffffff" stroke-width="0.8"/>
<line x1="235.8" y1="735.5" x2="239.1" y2="735.5" stroke="#ffffff" stroke-width="0.8"/>
<text x="243.1" y="738.8" font-family="Liberation Sans, sans-serif" font-size="8.6" text-anchor="start" fill="#4d4d4d">0.05</text>
<line x1="222.6" y1="750.2" x2="225.9" y2="750.2" stroke="#ffffff" stroke-width="0.8"/>
<line x1="235.8" y1="750.2" x2="239.1" y2="750.2" stroke="#ffffff" stroke-width="0.8"/>
<text x="243.1" y="753.5" font-family="Liberation Sans, sans-serif" font-size="8.6" text-anchor="start" fill="#4d4d4d">0.00</text>
<line x1="222.6" y1="764.9" x2="225.9" y2="764.9" stroke="#ffffff" stroke-width="0.8"/>
<line x1="235.8" y1="764.9" x2="239.1" y2="764.9" stroke="#ffffff" stroke-width="0.8"/>
<text x="243.1" y="768.2" font-family="Liberation Sans, sans-serif" font-size="8.6" text-anchor="start" fill="#4d4d4d">&#8722;0.05</text>
<line x1="222.6" y1="779.6" x2="225.9" y2="779.6" stroke="#ffffff" stroke-width="0.8"/>
<line x1="235.8" y1="779.6" x2="239.1" y2="779.6" stroke="#ffffff" stroke-width="0.8"/>
<text x="243.1" y="782.9" font-family="Liberation Sans, sans-serif" font-size="8.6" text-anchor="start" fill="#4d4d4d">&#8722;0.10</text>
<line x1="222.6" y1="794.3" x2="225.9" y2="794.3" stroke="#ffffff" stroke-width="0.8"/>
<line x1="235.8" y1="794.3" x2="239.1" y2="794.3" stroke="#ffffff" stroke-width="0.8"/>
<text x="243.1" y="797.6" font-family="Liberation Sans, sans-serif" font-size="8.6" text-anchor="start" fill="#4d4d4d">&#8722;0.15</text>
<defs><linearGradient id="g2" x1="0" y1="0" x2="0" y2="1"><stop offset="0" stop-color="#ff6767"/><stop offset="0.5011494252873566" stop-color="#ffffff"/><stop offset="1" stop-color="#3f88ff"/></linearGradient></defs>
<rect x="739.6" y="707.4" width="16.5" height="87" fill="url(#g2)"/>
<text x="739.6" y="703" font-family="Liberation Sans, sans-serif" font-size="10.4" text-anchor="start" fill="#1a1a1a">log10(HR)</text>
<line x1="739.6" y1="725.5" x2="742.9" y2="725.5" stroke="#ffffff" stroke-width="0.8"/>
<line x1="752.8" y1="725.5" x2="756.1" y2="725.5" stroke="#ffffff" stroke-width="0.8"/>
<text x="760.1" y="728.8" font-family="Liberation Sans, sans-serif" font-size="8.6" text-anchor="start" fill="#4d4d4d">0.1</text>
<line x1="739.6" y1="751" x2="742.9" y2="751" stroke="#ffffff" stroke-width="0.8"/>
<line x1="752.8" y1="751" x2="756.1" y2="751" stroke="#ffffff" stroke-width="0.8"/>
<text x="760.1" y="754.3" font-family="Liberation Sans, sans-serif" font-size="8.6" text-anchor="start" fill="#4d4d4d">0.0</text>
<line x1="739.6" y1="776.8" x2="742.9" y2="776.8" stroke="#ffffff" stroke-width="0.8"/>
<line x1="752.8" y1="776.8" x2="756.1" y2="776.8" stroke="#ffffff" stroke-width="0.8"/>
<text x="760.1" y="780.1" font-family="Liberation Sans, sans-serif" font-size="8.6" text-anchor="start" fill="#4d4d4d">&#8722;0.1</text>
<rect x="308.7" y="530.7" width="203.7" height="193.8" fill="none" stroke="#8a8a8a" stroke-width="1.1"/>
<path d="M312.14 537.9H313.76V539.81H320.38V541.73H324.2V543.64H328.65V546.15H334.54V548.66H339.44V551.18H344.27V553.69H349.05V554.72H353.21V555.75H357.99V556.78H364.28V557.81H367.96V558.77H374.24V559.73H379.68V560.68H397.04V560.68H397.04V556.74H493.08" stroke="#ff0000" stroke-width="0.75" fill="none" stroke-dasharray="1 1.5" opacity="0.8"/>
<path d="M329.34 555.84H331.77V558.98H336.93V562.12H341.69V565.26H343.97V568.4H350.09V569.74H354.69V571.09H359.36V572.43H362.32V573.78H366.91V575.57H373.22V577.37H379.54V579.16H397.04V579.16H397.04V611.63H493.08" stroke="#ff0000" stroke-width="0.75" fill="none" stroke-dasharray="1 1.5" opacity="0.8"/>
<path d="M315.58 539.69H318.67V542.09H323.6V544.48H327.34V546.87H331.74V549.11H335.68V551.35H341.8V553.6H343.97V555.84H347.85V557.63H352.49V559.43H356.78V561.22H361.29V563.02H365.41V565.26H369.22V567.5H374.18V569.74H378.44V571.99H405.3V571.99H425.87V571.99H425.87V566.6H506.84" stroke="#0000ff" stroke-width="0.75" fill="none" stroke-dasharray="1 1.5" opacity="0.8"/>
<path d="M319.02 550.46H320.38V554.05H326.26V557.63H330.39V561.22H334.22V564.81H337.83V569.59H344.27V574.38H348.9V579.16H352.38V582.3H356.66V585.44H360.15V588.58H363.75V591.72H369.08V594.14H373.83V596.56H376.8V603.02H405.3V603.02H405.3V625.99H425.87V625.99H425.87V661.15H506.84" stroke="#0000ff" stroke-width="0.75" fill="none" stroke-dasharray="1 1.5" opacity="0.8"/>
<path d="M308.7 537.9H309.87V539.56H312.36V541.22H314.57V542.88H315.96V544.54H318V546.69H320.98V548.84H323.18V551H326.45V553.15H328.69V554.32H331.02V555.48H333.42V556.65H336.07V557.81H337.63V560.37H340.54V562.93H342.48V565.48H346.14V568.04H347.25V570.91H351.79V573.78H353.06V574.45H356.5V575.13H358.32V575.8H360.84V576.47H364.08V577.73H365.15V578.98H367.75V580.24H372.09V582.57H374.15V584.9H376.16V586.79H380.64V588.67H405.3V588.67H405.3V601.23H425.87V601.23H425.87V624.55H506.84" stroke="#0000ff" stroke-width="1.5" fill="none"/>
<path d="M308.7 537.9H309.86V539.25H312.26V540.59H315.07V541.94H316.58V543.28H318.94V544.45H321.41V545.61H323.09V546.78H325.97V547.95H328.59V549.61H331.35V551.27H332.61V552.92H335.45V554.58H337.54V556.29H341.16V557.99H343.37V559.7H344.68V561.4H348.68V562.12H351.06V562.84H352.94V563.55H355.28V564.27H356.92V564.77H359.09V565.26H362.36V565.75H363.98V566.25H366.64V567.5H369.26V568.76H371.41V570.01H374.82V571.9H377.52V573.78H397.04V573.78H397.04V587.41H492.4" stroke="#ff0000" stroke-width="1.5" fill="none"/>
<path d="M311.45 536.76V542.36M314.2 538.42V544.02M316.27 541.74V547.34M319.02 543.89V549.49M321.08 546.04V551.64M323.15 546.04V551.64M325.21 548.2V553.8M327.96 550.35V555.95M330.72 551.52V557.12M333.47 553.85V559.45M336.22 555.01V560.61M338.97 557.57V563.17M341.72 560.13V565.73M344.48 562.68V568.28M347.23 565.24V570.84M349.98 568.11V573.71M352.73 570.98V576.58M355.48 571.65V577.25M358.24 572.33V577.93M360.99 573.67V579.27M363.74 573.67V579.27M367.18 576.18V581.78M370.62 577.44V583.04M374.06 579.77V585.37M377.5 583.99V589.59M380.25 583.99V589.59M383 585.87V591.47M385.76 585.87V591.47M388.51 585.87V591.47M391.26 585.87V591.47M394.01 585.87V591.47M405.71 598.43V604.03M407.08 598.43V604.03M409.15 598.43V604.03M424.97 598.43V604.03M471.07 621.75V627.35M486.89 621.75V627.35M500.65 621.75V627.35M504.78 621.75V627.35" stroke="#0000ff" stroke-width="0.9" fill="none"/>
<path d="M310.76 536.45V542.05M312.83 537.79V543.39M314.89 537.79V543.39M316.96 540.48V546.08M319.02 541.65V547.25M321.08 541.65V547.25M323.15 543.98V549.58M325.21 543.98V549.58M327.28 545.15V550.75M329.34 546.81V552.41M331.4 548.47V554.07M333.47 550.12V555.72M335.53 551.78V557.38M337.6 553.49V559.09M339.66 553.49V559.09M341.72 555.19V560.79M343.79 556.9V562.5M345.85 558.6V564.2M347.92 558.6V564.2M349.98 559.32V564.92M352.04 560.04V565.64M354.11 560.75V566.35M356.17 561.47V567.07M358.24 561.97V567.57M360.3 562.46V568.06M362.36 562.95V568.55M364.43 563.45V569.05M366.49 563.45V569.05M368.56 564.7V570.3M370.62 565.96V571.56M372.68 567.21V572.81M374.75 567.21V572.81M376.81 569.1V574.7M379.56 570.98V576.58M381.63 570.98V576.58M383.69 570.98V576.58M385.76 570.98V576.58M387.82 570.98V576.58M389.88 570.98V576.58M391.95 570.98V576.58M394.01 570.98V576.58M400.2 584.61V590.21M403.16 584.61V590.21M405.85 584.61V590.21M408.6 584.61V590.21M416.03 584.61V590.21M427.04 584.61V590.21M491.71 584.61V590.21" stroke="#ff0000" stroke-width="0.9" fill="none"/>
<line x1="303.7" y1="717.3" x2="308.7" y2="717.3" stroke="#8a8a8a" stroke-width="1"/>
<text x="296.4" y="717.3" font-family="Liberation Sans, sans-serif" font-size="8.9" text-anchor="middle" fill="#444" transform="rotate(-90 296.4 717.3)">0.0</text>
<line x1="303.7" y1="681.42" x2="308.7" y2="681.42" stroke="#8a8a8a" stroke-width="1"/>
<text x="296.4" y="681.42" font-family="Liberation Sans, sans-serif" font-size="8.9" text-anchor="middle" fill="#444" transform="rotate(-90 296.4 681.42)">0.2</text>
<line x1="303.7" y1="645.54" x2="308.7" y2="645.54" stroke="#8a8a8a" stroke-width="1"/>
<text x="296.4" y="645.54" font-family="Liberation Sans, sans-serif" font-size="8.9" text-anchor="middle" fill="#444" transform="rotate(-90 296.4 645.54)">0.4</text>
<line x1="303.7" y1="609.66" x2="308.7" y2="609.66" stroke="#8a8a8a" stroke-width="1"/>
<text x="296.4" y="609.66" font-family="Liberation Sans, sans-serif" font-size="8.9" text-anchor="middle" fill="#444" transform="rotate(-90 296.4 609.66)">0.6</text>
<line x1="303.7" y1="573.78" x2="308.7" y2="573.78" stroke="#8a8a8a" stroke-width="1"/>
<text x="296.4" y="573.78" font-family="Liberation Sans, sans-serif" font-size="8.9" text-anchor="middle" fill="#444" transform="rotate(-90 296.4 573.78)">0.8</text>
<line x1="303.7" y1="537.9" x2="308.7" y2="537.9" stroke="#8a8a8a" stroke-width="1"/>
<text x="296.4" y="537.9" font-family="Liberation Sans, sans-serif" font-size="8.9" text-anchor="middle" fill="#444" transform="rotate(-90 296.4 537.9)">1.0</text>
<line x1="308.7" y1="724.5" x2="308.7" y2="729.5" stroke="#8a8a8a" stroke-width="1"/>
<text x="308.7" y="743.4" font-family="Liberation Sans, sans-serif" font-size="9" text-anchor="middle" fill="#444">0</text>
<line x1="343.1" y1="724.5" x2="343.1" y2="729.5" stroke="#8a8a8a" stroke-width="1"/>
<text x="343.1" y="743.4" font-family="Liberation Sans, sans-serif" font-size="9" text-anchor="middle" fill="#444">50</text>
<line x1="377.5" y1="724.5" x2="377.5" y2="729.5" stroke="#8a8a8a" stroke-width="1"/>
<text x="377.5" y="743.4" font-family="Liberation Sans, sans-serif" font-size="9" text-anchor="middle" fill="#444">100</text>
<line x1="411.9" y1="724.5" x2="411.9" y2="729.5" stroke="#8a8a8a" stroke-width="1"/>
<text x="411.9" y="743.4" font-family="Liberation Sans, sans-serif" font-size="9" text-anchor="middle" fill="#444">150</text>
<line x1="446.3" y1="724.5" x2="446.3" y2="729.5" stroke="#8a8a8a" stroke-width="1"/>
<text x="446.3" y="743.4" font-family="Liberation Sans, sans-serif" font-size="9" text-anchor="middle" fill="#444">200</text>
<line x1="480.7" y1="724.5" x2="480.7" y2="729.5" stroke="#8a8a8a" stroke-width="1"/>
<text x="480.7" y="743.4" font-family="Liberation Sans, sans-serif" font-size="9" text-anchor="middle" fill="#444">250</text>
<text x="411.05" y="527.1" font-family="Liberation Sans, sans-serif" font-size="12.6" text-anchor="middle" fill="#222">Disease Free Survival</text>
<text x="410.55" y="758.1" font-family="Liberation Sans, sans-serif" font-size="11.2" text-anchor="middle" fill="#222">Months</text>
<text x="281" y="628.6" font-family="Liberation Sans, sans-serif" font-size="11.2" text-anchor="middle" fill="#222" transform="rotate(-90 281 628.6)">Percent survival</text>
<line x1="381" y1="540.2" x2="396.8" y2="540.2" stroke="#0000ff" stroke-width="1.5"/>
<line x1="381" y1="548.3" x2="396.8" y2="548.3" stroke="#ff0000" stroke-width="1.5"/>
<text x="400.3" y="543.2" font-family="Liberation Sans, sans-serif" font-size="8.5" text-anchor="start" fill="#222">Low MIR99AHG&#8722;018 Group</text>
<text x="400.3" y="551.3" font-family="Liberation Sans, sans-serif" font-size="8.5" text-anchor="start" fill="#222">High MIR99AHG&#8722;018 Group</text>
<text x="507.8" y="561.7" font-family="Liberation Sans, sans-serif" font-size="8.5" text-anchor="end" fill="#222">Logrank p=0.035</text>
<text x="507.8" y="571.85" font-family="Liberation Sans, sans-serif" font-size="8.5" text-anchor="end" fill="#222">HR(high)=0.66</text>
<text x="507.8" y="582" font-family="Liberation Sans, sans-serif" font-size="8.5" text-anchor="end" fill="#222">p(HR)=0.037</text>
<text x="507.8" y="592.15" font-family="Liberation Sans, sans-serif" font-size="8.5" text-anchor="end" fill="#222">n(high)=517</text>
<text x="507.8" y="602.3" font-family="Liberation Sans, sans-serif" font-size="8.5" text-anchor="end" fill="#222">n(low)=509</text>
<rect x="309.9" y="783" width="204.1" height="194" fill="none" stroke="#8a8a8a" stroke-width="1.1"/>
<path d="M313.32 790.1H316.26V791.59H321.37V793.09H326.91V794.58H329.9V797.5H335.9V800.41H341.45V803.32H346.26V806.24H348.61V808.48H354.91V810.72H359.55V812.96H363.93V815.2H370.22V817H373.52V818.79H377.84V821.78H383.84V824.76H387.32V827.75H391.05V834.84H396.31V841.92H401.71V845.68H404.65V849.45H458.53V849.45H458.53V850.34H460.17V850.34H460.17V858.23H506.21" stroke="#ff0000" stroke-width="0.75" fill="none" stroke-dasharray="1 1.5" opacity="0.8"/>
<path d="M323.58 802.65H326.31V806.24H331.07V809.82H336.22V813.41H339.06V817.59H344.81V821.78H350.14V825.96H354.75V829.55H357.01V833.13H363.05V836.72H368.08V841.2H373.11V845.68H382.16V851.06H386.4V868.99H391.32V876.16H398.57V890.51H402.12V894.09H405.4V897.68H409.67V898.35H414.44V899.02H417.35V899.7H423.21V900.37H427.81V901.04H431.11V901.71H436.57V902.39H441.03V903.06H444.15V903.73H448.73V904.4H451.29V905.08H455.32V905.75H459.99V938.38H506.89" stroke="#ff0000" stroke-width="0.75" fill="none" stroke-dasharray="1 1.5" opacity="0.8"/>
<path d="M316.74 791.89H317.92V795.03H323.96V798.17H330.44V802.05H336.56V805.94H339.71V809.82H344.47V813.41H349.1V816.99H354.95V820.58H357.4V824.17H363.79V830.44H368.29V836.72H371.15V842.99H376.62V849.27H381.37V854.65H386.94V860.03H394.52V865.23H396.44V870.43H401.48V872.22H410.87V874.01H480.35V874.01H480.35" stroke="#0000ff" stroke-width="0.75" fill="none" stroke-dasharray="1 1.5" opacity="0.8"/>
<path d="M320.16 800.86H321.11V806.83H325.96V812.81H331.39V818.79H336.67V823.27H339.32V827.75H343.51V832.24H348.15V836.72H354.34V842.1H357.07V847.48H363.79V852.86H368.29V858.23H371.15V865.41H376.62V872.58H381.37V881.54H386.94V890.51H394.52V897.68H396.44V904.85H401.48V914.71H410.87V924.57H480.35V924.57H480.35V961.15H503.47" stroke="#0000ff" stroke-width="0.75" fill="none" stroke-dasharray="1 1.5" opacity="0.8"/>
<path d="M309.9 790.1H312.4V791.89H313.63V793.69H316.27V795.48H320.66V797.59H321.68V799.69H323.95V801.8H327.21V803.91H329.3V807.76H333.26V811.62H334.63V813.27H338.22V814.93H339.53V816.59H342.38V818.25H345.44V821.42H347.53V824.59H350.48V827.75H352.53V829.19H353.8V830.62H357.57V832.06H359.46V833.49H361.38V835.37H363.57V837.26H367.04V842.9H368.96V848.55H372.32V851.42H374.83V854.29H378.07V862.9H379.76V864.15H382.17V865.41H384.25V866.66H386.53V870.43H389.73V877.42H390.85V879.48H393.98V881.54H396.66V884.59H398.54V887.64H399.63V897.14H402.03V898.65H404.07V900.15H405.58V901.66H407.65V903.17H410.7V904.67H480.35V904.67H480.35V937.48H503.47" stroke="#0000ff" stroke-width="1.5" fill="none"/>
<path d="M309.9 790.1H310.81V790.88H314.73V791.65H317.5V792.43H319.79V794.36H321.73V796.29H325.07V798.21H327.47V800.14H329.35V801.8H331.72V803.46H333.65V805.12H335.64V806.77H338.63V808.43H341.36V810.09H342.88V811.75H346.46V813.41H347.9V815.56H350.28V817.71H352.34V819.86H356.31V822.02H358.25V823.45H360.86V824.88H362.8V826.32H364.21V827.75H367.08V829.19H369.74V830.62H371.48V832.06H375.25V833.49H376.71V834.75H378.85V836H382.52V837.26H384.21V841.92H388.61V856.26H390.12V859.04H392.65V861.82H394.89V868.1H398.04V874.37H400.31V876.88H402.86V879.39H407.36V881.9H458.53V881.9H458.53V896.78H460.17V896.78H460.17V911.49H506.89" stroke="#ff0000" stroke-width="1.5" fill="none"/>
<path d="M311.95 787.3V792.9M314 790.89V796.49M316.06 790.89V796.49M318.11 792.68V798.28M320.16 792.68V798.28M322.21 796.89V802.49M324.26 799V804.6M326.32 799V804.6M328.37 801.11V806.71M330.42 804.96V810.56M332.47 804.96V810.56M334.52 808.82V814.42M336.58 810.47V816.07M338.63 812.13V817.73M340.68 813.79V819.39M342.73 815.45V821.05M344.78 815.45V821.05M346.84 818.62V824.22M348.89 821.79V827.39M350.94 824.95V830.55M352.99 826.39V831.99M355.04 827.82V833.42M357.78 829.26V834.86M360.52 830.69V836.29M363.25 832.57V838.17M365.99 834.46V840.06M368.72 840.1V845.7M371.46 845.75V851.35M374.88 851.49V857.09M377.62 851.49V857.09M380.35 861.35V866.95M383.09 862.61V868.21M386.51 863.86V869.46M393.35 876.68V882.28M396.77 881.79V887.39M402.92 895.85V901.45M405.66 898.86V904.46M408.4 900.37V905.97M422.76 901.87V907.47M424.81 901.87V907.47M426.86 901.87V907.47M428.23 901.87V907.47M472.69 901.87V907.47M502.1 934.68V940.28M503.47 934.68V940.28" stroke="#0000ff" stroke-width="0.9" fill="none"/>
<path d="M311.27 788.08V793.68M313.32 788.08V793.68M315.37 788.85V794.45M317.42 788.85V794.45M319.48 789.63V795.23M321.53 791.56V797.16M323.58 793.49V799.09M325.63 795.41V801.01M327.68 797.34V802.94M329.74 799V804.6M331.79 800.66V806.26M333.84 802.32V807.92M335.89 803.97V809.57M337.94 803.97V809.57M340 805.63V811.23M342.05 807.29V812.89M344.1 808.95V814.55M346.15 808.95V814.55M348.2 812.76V818.36M350.26 812.76V818.36M352.31 814.91V820.51M354.36 817.06V822.66M356.41 819.22V824.82M358.46 820.65V826.25M360.52 820.65V826.25M362.57 822.08V827.68M364.62 824.95V830.55M366.67 824.95V830.55M368.72 826.39V831.99M370.78 827.82V833.42M372.83 829.26V834.86M374.88 829.26V834.86M376.93 831.95V837.55M378.98 833.2V838.8M381.04 833.2V838.8M383.77 834.46V840.06M391.98 856.24V861.84M397.45 865.3V870.9M402.92 876.59V882.19M415.92 879.1V884.7M429.6 879.1V884.7M443.28 879.1V884.7M455.59 879.1V884.7M489.11 908.69V914.29M494.58 908.69V914.29M503.47 908.69V914.29M505.52 908.69V914.29" stroke="#ff0000" stroke-width="0.9" fill="none"/>
<line x1="304.9" y1="969.4" x2="309.9" y2="969.4" stroke="#8a8a8a" stroke-width="1"/>
<text x="297.6" y="969.4" font-family="Liberation Sans, sans-serif" font-size="8.9" text-anchor="middle" fill="#444" transform="rotate(-90 297.6 969.4)">0.0</text>
<line x1="304.9" y1="933.54" x2="309.9" y2="933.54" stroke="#8a8a8a" stroke-width="1"/>
<text x="297.6" y="933.54" font-family="Liberation Sans, sans-serif" font-size="8.9" text-anchor="middle" fill="#444" transform="rotate(-90 297.6 933.54)">0.2</text>
<line x1="304.9" y1="897.68" x2="309.9" y2="897.68" stroke="#8a8a8a" stroke-width="1"/>
<text x="297.6" y="897.68" font-family="Liberation Sans, sans-serif" font-size="8.9" text-anchor="middle" fill="#444" transform="rotate(-90 297.6 897.68)">0.4</text>
<line x1="304.9" y1="861.82" x2="309.9" y2="861.82" stroke="#8a8a8a" stroke-width="1"/>
<text x="297.6" y="861.82" font-family="Liberation Sans, sans-serif" font-size="8.9" text-anchor="middle" fill="#444" transform="rotate(-90 297.6 861.82)">0.6</text>
<line x1="304.9" y1="825.96" x2="309.9" y2="825.96" stroke="#8a8a8a" stroke-width="1"/>
<text x="297.6" y="825.96" font-family="Liberation Sans, sans-serif" font-size="8.9" text-anchor="middle" fill="#444" transform="rotate(-90 297.6 825.96)">0.8</text>
<line x1="304.9" y1="790.1" x2="309.9" y2="790.1" stroke="#8a8a8a" stroke-width="1"/>
<text x="297.6" y="790.1" font-family="Liberation Sans, sans-serif" font-size="8.9" text-anchor="middle" fill="#444" transform="rotate(-90 297.6 790.1)">1.0</text>
<line x1="309.9" y1="977" x2="309.9" y2="982" stroke="#8a8a8a" stroke-width="1"/>
<text x="309.9" y="995.9" font-family="Liberation Sans, sans-serif" font-size="9" text-anchor="middle" fill="#444">0</text>
<line x1="344.1" y1="977" x2="344.1" y2="982" stroke="#8a8a8a" stroke-width="1"/>
<text x="344.1" y="995.9" font-family="Liberation Sans, sans-serif" font-size="9" text-anchor="middle" fill="#444">50</text>
<line x1="378.3" y1="977" x2="378.3" y2="982" stroke="#8a8a8a" stroke-width="1"/>
<text x="378.3" y="995.9" font-family="Liberation Sans, sans-serif" font-size="9" text-anchor="middle" fill="#444">100</text>
<line x1="412.5" y1="977" x2="412.5" y2="982" stroke="#8a8a8a" stroke-width="1"/>
<text x="412.5" y="995.9" font-family="Liberation Sans, sans-serif" font-size="9" text-anchor="middle" fill="#444">150</text>
<line x1="446.7" y1="977" x2="446.7" y2="982" stroke="#8a8a8a" stroke-width="1"/>
<text x="446.7" y="995.9" font-family="Liberation Sans, sans-serif" font-size="9" text-anchor="middle" fill="#444">200</text>
<line x1="480.9" y1="977" x2="480.9" y2="982" stroke="#8a8a8a" stroke-width="1"/>
<text x="480.9" y="995.9" font-family="Liberation Sans, sans-serif" font-size="9" text-anchor="middle" fill="#444">250</text>
<text x="412.45" y="779.4" font-family="Liberation Sans, sans-serif" font-size="12.6" text-anchor="middle" fill="#222">Overall Survival</text>
<text x="411.95" y="1010.6" font-family="Liberation Sans, sans-serif" font-size="11.2" text-anchor="middle" fill="#222">Months</text>
<text x="282.2" y="881" font-family="Liberation Sans, sans-serif" font-size="11.2" text-anchor="middle" fill="#222" transform="rotate(-90 282.2 881)">Percent survival</text>
<line x1="382.2" y1="792.5" x2="398" y2="792.5" stroke="#0000ff" stroke-width="1.5"/>
<line x1="382.2" y1="800.6" x2="398" y2="800.6" stroke="#ff0000" stroke-width="1.5"/>
<text x="401.5" y="795.5" font-family="Liberation Sans, sans-serif" font-size="8.5" text-anchor="start" fill="#222">Low MIR99AHG&#8722;015 Group</text>
<text x="401.5" y="803.6" font-family="Liberation Sans, sans-serif" font-size="8.5" text-anchor="start" fill="#222">High MIR99AHG&#8722;015 Group</text>
<text x="509.4" y="814" font-family="Liberation Sans, sans-serif" font-size="8.5" text-anchor="end" fill="#222">Logrank p=0.024</text>
<text x="509.4" y="824.15" font-family="Liberation Sans, sans-serif" font-size="8.5" text-anchor="end" fill="#222">HR(high)=0.69</text>
<text x="509.4" y="834.3" font-family="Liberation Sans, sans-serif" font-size="8.5" text-anchor="end" fill="#222">p(HR)=0.024</text>
<text x="509.4" y="844.45" font-family="Liberation Sans, sans-serif" font-size="8.5" text-anchor="end" fill="#222">n(high)=530</text>
<text x="509.4" y="854.6" font-family="Liberation Sans, sans-serif" font-size="8.5" text-anchor="end" fill="#222">n(low)=534</text>
<line x1="196.3" y1="626.2" x2="297.3" y2="780.3" stroke="#1f3575" stroke-width="1.7" stroke-dasharray="5 3.2"/>
<line x1="200.3" y1="675" x2="285.2" y2="982.2" stroke="#1f3575" stroke-width="1.7" stroke-dasharray="5 3.2"/>
<line x1="512.7" y1="524.3" x2="669.5" y2="535.4" stroke="#1f3575" stroke-width="1.7" stroke-dasharray="5 3.2"/>
<line x1="668.8" y1="581.3" x2="511.5" y2="741.2" stroke="#1f3575" stroke-width="1.7" stroke-dasharray="5 3.2"/>
</svg>
</body></html>
